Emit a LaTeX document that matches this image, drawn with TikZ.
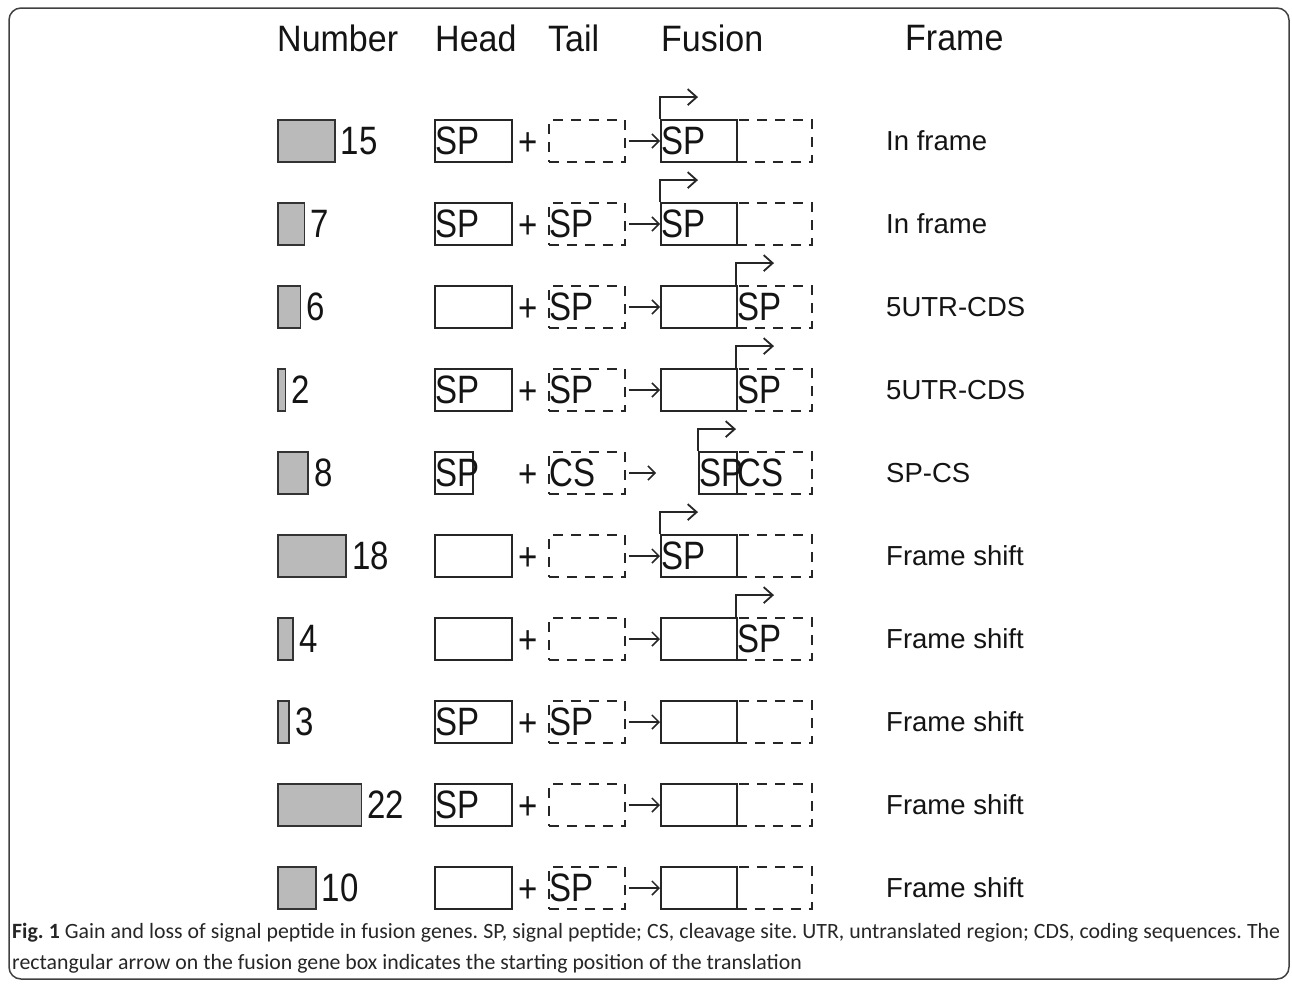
\documentclass[tikz,border=0pt]{standalone}
\usepackage{fontspec}
\setmainfont{Liberation Sans}
\newfontfamily\capfont{Carlito}
\usetikzlibrary{arrows.meta}
\newcommand\tall[1]{\scalebox{1}[1.2]{#1}}
\newcommand\htall[1]{\scalebox{1}[1.08]{#1}}
\begin{document}
\begin{tikzpicture}[x=1pt,y=-1pt,
  graybox/.style={draw=black!80, fill=black!27, line width=1.6pt, minimum height=42pt, inner sep=0pt, anchor=west},
  solidbox/.style={draw=black!85, line width=1.8pt, minimum height=42pt, inner sep=0pt, anchor=west},
  dashbox/.style={draw=black!85, line width=1.8pt, dash pattern=on 10pt off 8pt, minimum height=42pt, inner sep=0pt, anchor=west},
  boxtext/.style={font=\fontsize{33}{33}\selectfont, inner sep=0pt, anchor=west, text=black!92},
  plustext/.style={font=\fontsize{33}{33}\selectfont, inner sep=0pt, anchor=base, text=black!92},
  headtext/.style={font=\fontsize{34}{34}\selectfont, inner sep=0pt, anchor=west, text=black!92},
  frametext/.style={font=\fontsize{27.5}{30}\selectfont, inner sep=0pt, anchor=west, text=black!92},
  conn/.style={line width=1.5pt, draw=black!85, -{Straight Barb[length=7pt,width=14pt,line width=1.5pt]}},
  startarrow/.style={line width=1.8pt, draw=black!85, -{Straight Barb[length=9pt,width=16pt,line width=1.8pt]}},
  framebox/.style={line width=1.5pt, draw=black!75, rounded corners=12pt},
  captext/.style={inner sep=0pt, anchor=west, text=black!85, font=\capfont\fontsize{21.8}{25}\selectfont\frenchspacing}
]
\useasboundingbox (0,0) rectangle (1292,983);
\draw[framebox] (9,8) rectangle (1289,979);

% headers
\node[headtext] (hNumber) at (277,38) {\htall{Number}};
\node[headtext] (hHead) at (435,38) {\htall{Head}};
\node[headtext] (hTail) at (548,38) {\htall{Tail}};
\node[headtext] (hFusion) at (661,38) {\htall{Fusion}};
\node[headtext] (hFrame) at (905,38) {\htall{Frame}};

% common parts of a row: name, y, number, frame text
\newcommand\rowbase[4]{%
  \pgfmathsetmacro\gw{3.8*#3}%
  \pgfmathsetmacro\py{#2+14}%
  \node[graybox, minimum width=\gw pt] (g#1) at (277,#2) {};
  \node[boxtext] (n#1) at ([xshift=5pt]g#1.east) {\tall{#3}};
  \node[solidbox, minimum width=77pt] (h#1) at (434,#2) {};
  \node[plustext] (p#1) at (528,\py) {\tall{+}};
  \node[dashbox, minimum width=76pt] (t#1) at (548,#2) {};
  \node[dashbox, minimum width=75pt] (d#1) at (736,#2) {};
  \node[solidbox, minimum width=76pt] (f#1) at (660,#2) {};
  \draw[conn] ([xshift=3pt]t#1.east) -- (f#1.west);
  \node[frametext] (fr#1) at (886,#2) {#4};
}

% row 1
\rowbase{a}{141}{15}{In frame}
\node[boxtext] (hsa) at ([xshift=1pt]ha.west) {\tall{SP}};
\node[boxtext] (fsa) at ([xshift=1pt]fa.west) {\tall{SP}};
\draw[startarrow] (fa.north west) -- ++(0,-22) -- ++(38,0);

% row 2
\rowbase{b}{224}{7}{In frame}
\node[boxtext] (hsb) at ([xshift=1pt]hb.west) {\tall{SP}};
\node[boxtext] (tsb) at ([xshift=1pt]tb.west) {\tall{SP}};
\node[boxtext] (fsb) at ([xshift=1pt]fb.west) {\tall{SP}};
\draw[startarrow] (fb.north west) -- ++(0,-22) -- ++(38,0);

% row 3
\rowbase{c}{307}{6}{5UTR-CDS}
\node[boxtext] (tsc) at ([xshift=1pt]tc.west) {\tall{SP}};
\node[boxtext] (dsc) at ([xshift=1pt]dc.west) {\tall{SP}};
\draw[startarrow] (dc.north west) -- ++(0,-22) -- ++(38,0);

% row 4
\rowbase{d}{390}{2}{5UTR-CDS}
\node[boxtext] (hsd) at ([xshift=1pt]hd.west) {\tall{SP}};
\node[boxtext] (tsd) at ([xshift=1pt]td.west) {\tall{SP}};
\node[boxtext] (dsd) at ([xshift=1pt]dd.west) {\tall{SP}};
\draw[startarrow] (dd.north west) -- ++(0,-22) -- ++(38,0);

% row 5 (special)
\pgfmathsetmacro\gw{3.8*8}
\node[graybox, minimum width=\gw pt] (ge) at (277,473) {};
\node[boxtext] (ne) at ([xshift=5pt]ge.east) {\tall{8}};
\node[solidbox, minimum width=38pt] (he) at (434,473) {};
\node[boxtext] (hse) at ([xshift=1pt]he.west) {\tall{SP}};
\node[plustext] (pe) at (528,487) {\tall{+}};
\node[dashbox, minimum width=76pt] (te) at (548,473) {};
\node[boxtext] (tse) at ([xshift=1pt]te.west) {\tall{CS}};
\node[dashbox, minimum width=75pt] (de) at (736,473) {};
\node[solidbox, minimum width=38pt] (fe) at (698,473) {};
\node[boxtext] (fse) at ([xshift=1pt]fe.west) {\tall{SP}};
\node[boxtext] (dse) at ([xshift=1pt]de.west) {\tall{CS}};
\draw[conn] ([xshift=3pt]te.east) -- ([xshift=-42pt]fe.west);
\draw[startarrow] (fe.north west) -- ++(0,-22) -- ++(38,0);
\node[frametext] (fre) at (886,473) {SP-CS};

% row 6
\rowbase{f}{556}{18}{Frame shift}
\node[boxtext] (fsf) at ([xshift=1pt]ff.west) {\tall{SP}};
\draw[startarrow] (ff.north west) -- ++(0,-22) -- ++(38,0);

% row 7
\rowbase{g}{639}{4}{Frame shift}
\node[boxtext] (dsg) at ([xshift=1pt]dg.west) {\tall{SP}};
\draw[startarrow] (dg.north west) -- ++(0,-22) -- ++(38,0);

% row 8
\rowbase{h}{722}{3}{Frame shift}
\node[boxtext] (hsh) at ([xshift=1pt]hh.west) {\tall{SP}};
\node[boxtext] (tsh) at ([xshift=1pt]th.west) {\tall{SP}};

% row 9
\rowbase{i}{805}{22}{Frame shift}
\node[boxtext] (hsi) at ([xshift=1pt]hi.west) {\tall{SP}};

% row 10
\rowbase{j}{888}{10}{Frame shift}
\node[boxtext] (tsj) at ([xshift=1pt]tj.west) {\tall{SP}};

% caption
\node[captext] (cap1) at (12,933) {\hbox to 1268pt{\textbf{Fig.\ 1} Gain and loss of signal peptide in fusion genes. SP, signal peptide; CS, cleavage site. UTR, untranslated region; CDS, coding sequences. The}};
\node[captext] (cap2) at (12,964) {rectangular arrow on the fusion gene box indicates the starting position of the translation};
\end{tikzpicture}
\end{document}
